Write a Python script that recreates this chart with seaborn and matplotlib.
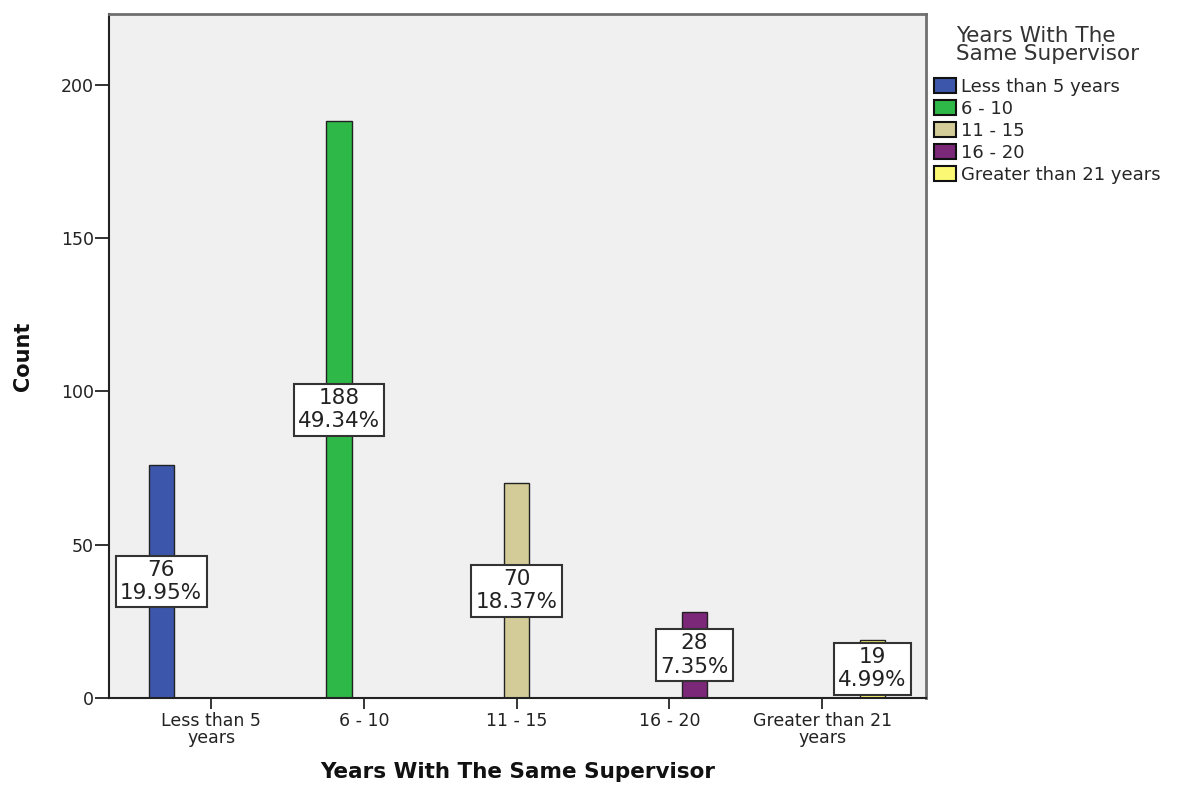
import matplotlib
matplotlib.use("Agg")
import matplotlib.pyplot as plt
import seaborn as sns
import pandas as pd

# Tenure groups and respondent counts
categories = ["Less than 5 years", "6 - 10", "11 - 15", "16 - 20", "Greater than 21 years"]
tick_labels = ["Less than 5\nyears", "6 - 10", "11 - 15", "16 - 20", "Greater than 21\nyears"]
counts = [76, 188, 70, 28, 19]
colors = ["#3c56ac", "#2eb847", "#d3cc99", "#7b2879", "#fbf874"]

total = sum(counts)
percents = [100 * c / total for c in counts]

df = pd.DataFrame({"group": categories, "count": counts})

sns.set_theme(style="white")
plt.rcParams["font.family"] = ["DejaVu Sans"]

fig = plt.figure(figsize=(11.9, 7.87), dpi=100)
ax = fig.add_axes([109 / 1190, 1 - 698 / 787, (926 - 109) / 1190, (698 - 14) / 787])
ax.set_facecolor("#f0f0f0")

sns.barplot(data=df, x="group", y="count", hue="group", order=categories,
            hue_order=categories, palette=colors, saturation=1, dodge=True, width=0.82,
            edgecolor="#222222", linewidth=1.0, legend=True, ax=ax)

ax.set_xlim(-0.67, 4.68)
ax.set_ylim(0, 223)
ax.set_yticks([0, 50, 100, 150, 200])
ax.set_xticks(range(len(categories)))
ax.set_xticklabels(tick_labels, fontsize=12.5, color="#222222", linespacing=0.95)
ax.tick_params(axis="y", labelsize=12.5, colors="#222222", length=10, width=1.3,
               direction="out", left=True, pad=1)
ax.tick_params(axis="x", length=8, width=1.3, direction="out", bottom=True, pad=2)
for lbl in ax.get_yticklabels():
    lbl.set_color("#222222")

for side in ["left", "bottom"]:
    ax.spines[side].set_color("#222222")
    ax.spines[side].set_linewidth(1.5)
for side in ["top", "right"]:
    ax.spines[side].set_color("#6f6f6f")
    ax.spines[side].set_linewidth(2.0)

ax.set_xlabel("Years With The Same Supervisor", fontsize=15.5, fontweight="bold",
              labelpad=11, color="#111111")
ax.set_ylabel("Count", fontsize=15, fontweight="bold", labelpad=20, color="#111111")

# Value / percent boxes at mid-height of each bar
for container, cnt, pct in zip(ax.containers, counts, percents):
    bar = container.patches[0]
    xc = bar.get_x() + bar.get_width() / 2
    ax.text(xc, bar.get_height() / 2, f"{cnt}\n{pct:.2f}%", ha="center", va="center",
            fontsize=15.5, color="#222222", linespacing=1.2,
            bbox=dict(boxstyle="square,pad=0.2", facecolor="white", edgecolor="#333333", linewidth=1.5))

handles, labels = ax.get_legend_handles_labels()
for h in handles:
    h.set_edgecolor("#111111")
    h.set_linewidth(1.5)
leg = ax.legend(handles, labels, title="Years With The\nSame Supervisor", loc="upper left",
                bbox_to_anchor=(1.0, 0.995), frameon=False, fontsize=13, title_fontsize=15.5,
                handlelength=1.2, handleheight=0.85, handletextpad=0.3, labelspacing=0.22,
                borderaxespad=0.25, borderpad=0.2)
leg.get_title().set_color("#333333")
leg.get_title().set_linespacing(0.9)
leg._legend_box.sep = 10

fig.savefig("out.png", dpi=100, facecolor="white")
